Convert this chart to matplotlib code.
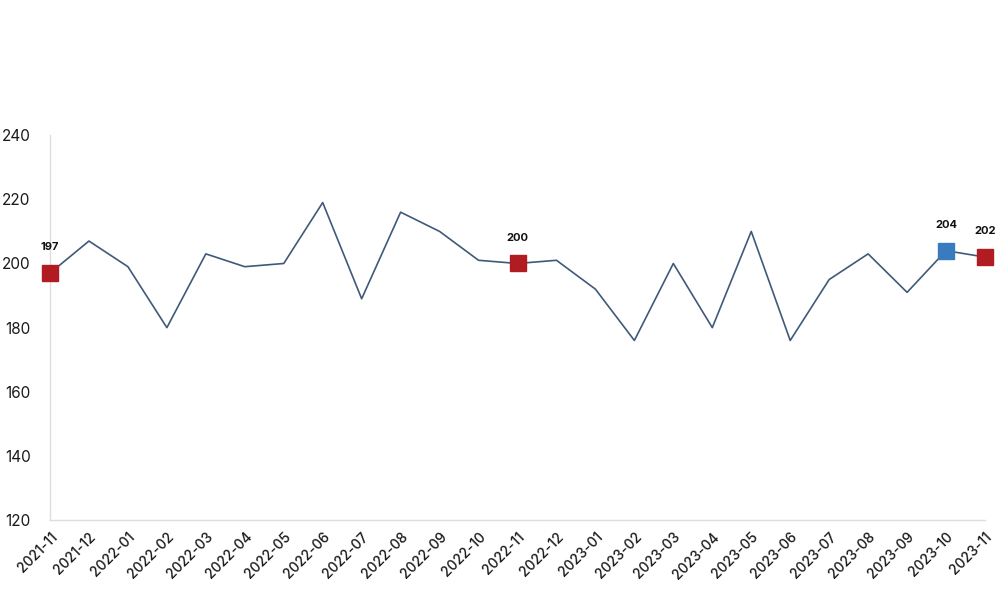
import matplotlib.pyplot as plt

months = ["2021-11", "2021-12", "2022-01", "2022-02", "2022-03", "2022-04", "2022-05",
          "2022-06", "2022-07", "2022-08", "2022-09", "2022-10", "2022-11", "2022-12",
          "2023-01", "2023-02", "2023-03", "2023-04", "2023-05", "2023-06", "2023-07",
          "2023-08", "2023-09", "2023-10", "2023-11"]
values = [197, 207, 199, 180, 203, 199, 200, 219, 189, 216, 210, 201, 200, 201,
          192, 176, 200, 180, 210, 176, 195, 203, 191, 204, 202]

# highlighted points: index -> colour
highlights = {0: "#b01c22", 12: "#b01c22", 23: "#3a7bbf", 24: "#b01c22"}

plt.rcParams["font.family"] = ["Inter", "DejaVu Sans"]

fig = plt.figure(figsize=(10, 5.93), dpi=100)
ax = fig.add_axes([0.05, 0.123, 0.935, 0.649])

x = list(range(len(months)))
ax.plot(x, values, color="#3f5a78", linewidth=1.2, zorder=2)

for i, c in highlights.items():
    ax.plot(x[i], values[i], marker="s", markersize=11, color=c, zorder=3, clip_on=False)
    ax.annotate(str(values[i]), (x[i], values[i]), xytext=(0, 15), textcoords="offset points",
                ha="center", va="bottom", fontsize=8, weight="bold", color="#111111")

ax.set_xlim(0, len(months) - 1)
ax.set_ylim(120, 240)
ax.set_yticks([120, 140, 160, 180, 200, 220, 240])
ax.set_xticks(x)
ax.set_xticklabels(months, rotation=45, ha="right", rotation_mode="anchor",
                   fontsize=10, weight="medium")
ax.tick_params(axis="both", length=0, colors="#1a1a1a")
ax.tick_params(axis="y", labelsize=11, pad=14)
ax.tick_params(axis="x", pad=7)

for side in ["top", "right"]:
    ax.spines[side].set_visible(False)
for side in ["left", "bottom"]:
    ax.spines[side].set_color("#dddddd")
    ax.spines[side].set_linewidth(1)

plt.savefig("out.png", dpi=100)
